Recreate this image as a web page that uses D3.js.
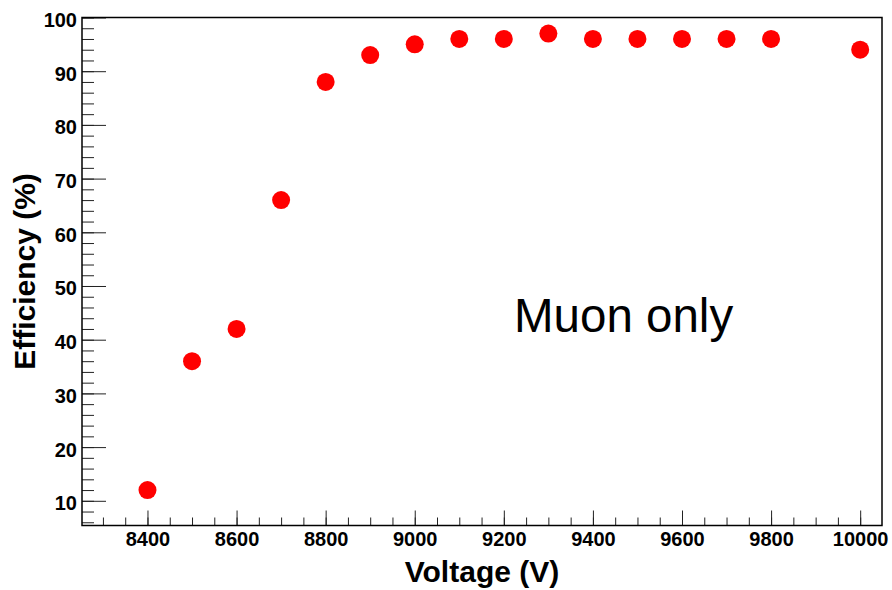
<!DOCTYPE html>
<html lang="en">
  <head>
    <meta charset="UTF-8" />
    <title>Muon efficiency</title>
    <style>
      body { margin: 0; background: #fff; }
      svg text { font-family: "Liberation Sans", Arial, sans-serif; }
      .axis path { stroke: #000; stroke-width: 1.5; }
      .axis line { stroke: #222; }
      .axis text { font-size: 20px; font-weight: bold; fill: #000; }
    </style>
  </head>
  <body>
    <div id="chart"></div>

    <script src="https://cdn.jsdelivr.net/npm/d3@7/dist/d3.min.js"></script>
    <script>

      // values
      var voltages = [8400, 8500, 8600, 8700, 8800, 8900, 9000, 9100, 9200, 9300, 9400, 9500, 9600, 9700, 9800, 10000];
      var efficiency = [12, 36, 42, 66, 88, 93, 95, 96, 96, 97, 96, 96, 96, 96, 96, 94];
      var xMajorTicks = [8400, 8600, 8800, 9000, 9200, 9400, 9600, 9800, 10000];
      var yMajorTicks = [10, 20, 30, 40, 50, 60, 70, 80, 90, 100];

      var W = 892, H = 590;
      var margin = { top: 17.5, right: 10, bottom: 64.5, left: 82 };
      var w = W - margin.left - margin.right,
          h = H - margin.top - margin.bottom;

      var svg = d3.select("#chart").append("svg")
          .attr("width", W)
          .attr("height", H);

      var x = d3.scaleLinear().domain([8253, 10049]).range([0, w]);
      var y = d3.scaleLinear().domain([5.4, 100]).range([h, 0]);

      var g = svg.append("g")
          .attr("transform", "translate(" + margin.left + "," + margin.top + ")");

      // minor ticks
      var xMinor = d3.range(8300, 10001, 50);
      var yMinor = d3.range(6, 100.1, 2);

      g.append("g")
         .attr("class", "axis")
         .attr("transform", "translate(0," + h + ")")
         .call(d3.axisTop(x).tickValues(xMinor).tickSize(8).tickFormat(""))
         .select(".domain").remove();
      g.append("g")
         .attr("class", "axis")
         .call(d3.axisRight(y).tickValues(yMinor).tickSize(12).tickFormat(""))
         .select(".domain").remove();

      // major ticks
      g.append("g")
         .attr("class", "axis")
         .attr("transform", "translate(0," + h + ")")
         .call(d3.axisTop(x).tickValues(xMajorTicks).tickSize(15).tickFormat(""))
         .select(".domain").remove();
      g.append("g")
         .attr("class", "axis")
         .call(d3.axisRight(y).tickValues(yMajorTicks).tickSize(24).tickFormat(""))
         .select(".domain").remove();

      // labels
      var xLab = g.append("g")
         .attr("class", "axis")
         .attr("transform", "translate(0," + h + ")")
         .call(d3.axisBottom(x).tickValues(xMajorTicks).tickSize(0).tickPadding(0).tickFormat(d3.format("d")));
      xLab.select(".domain").remove();
      xLab.selectAll("text").attr("dy", null).attr("y", 20.5);

      var yLab = g.append("g")
         .attr("class", "axis")
         .call(d3.axisLeft(y).tickValues(yMajorTicks).tickSize(0).tickPadding(5).tickFormat(d3.format("d")));
      yLab.select(".domain").remove();
      yLab.selectAll("text").attr("dy", "0.45em");

      // frame
      g.append("rect")
         .attr("x", 0).attr("y", 0)
         .attr("width", w).attr("height", h)
         .attr("fill", "none")
         .attr("stroke", "#000")
         .attr("stroke-width", 1.5);

      // points
      g.selectAll("circle")
         .data(voltages)
         .enter()
         .append("circle")
         .attr("cx", function(d) { return x(d); })
         .attr("cy", function(d, i) { return y(efficiency[i]); })
         .attr("r", 9)
         .attr("fill", "#ff0000");

      // titles
      svg.append("text")
         .attr("x", margin.left + w / 2)
         .attr("y", 582)
         .attr("text-anchor", "middle")
         .style("font-size", "30px")
         .style("font-weight", "bold")
         .text("Voltage (V)");
      svg.append("text")
         .attr("transform", "translate(35," + (margin.top + h / 2) + ")rotate(-90)")
         .attr("text-anchor", "middle")
         .style("font-size", "30px")
         .style("font-weight", "bold")
         .text("Efficiency (%)");

      svg.append("text")
         .attr("x", 514)
         .attr("y", 332)
         .style("font-size", "47.5px")
         .text("Muon only");

    </script>
  </body>
</html>
